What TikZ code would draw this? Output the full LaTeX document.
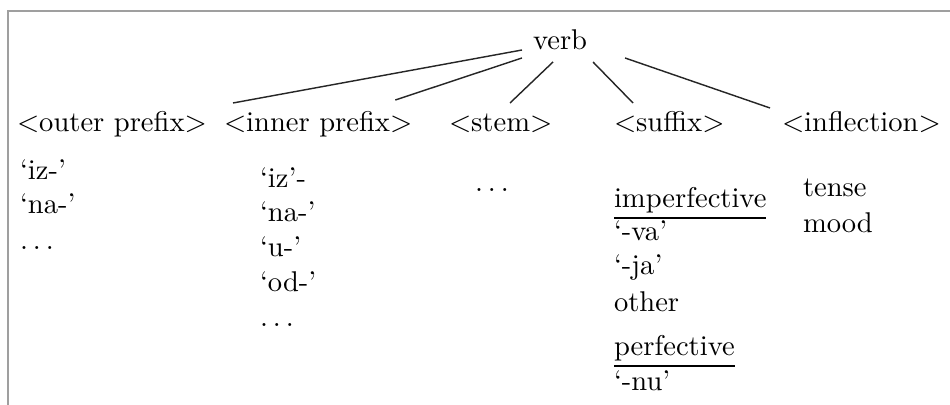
\documentclass[tikz,border=0pt]{standalone}
\usetikzlibrary{calc}
\newcommand{\spdots}{.\kern1.75pt.\kern1.75pt.}
\begin{document}
\begin{tikzpicture}[x=0.35pt,y=-0.35pt,
  lbl/.style={anchor=base west,inner sep=0pt,outer sep=0pt},
  edge/.style={line width=0.5pt,black!85},
  frame/.style={line width=0.55pt,gray!75}]
\useasboundingbox (0,0) rectangle (950,405);
% frame of the screenshot
\draw[frame] (950,11) -- (8,11) -- (8,405);
% root and children
\node[lbl] (verb) at (533,50) {verb};
\node[lbl] (outer) at (17,132) {$<$outer prefix$>$};
\node[lbl] (inner) at (224,132) {$<$inner prefix$>$};
\node[lbl] (stem) at (449,132) {$<$stem$>$};
\node[lbl] (suffix) at (614,132) {$<$suffix$>$};
\node[lbl] (infl) at (782,132) {$<$inflection$>$};
% connectors
\draw[edge] ($(verb.base west)+(-11,0)$) -- ($(inner.base west)+(9,-29)$);
\draw[edge] ($(verb.base west)+(-11,8)$) -- ($(inner.base east)+(-17,-32)$);
\draw[edge] ($(verb.base west)+(20,12)$) -- ($(stem.base west)+(61,-29)$);
\draw[edge] ($(verb.base west)+(60,12)$) -- ($(suffix.base west)+(19,-29)$);
\draw[edge] ($(verb.base east)+(38,8)$) -- ($(infl.base west)+(-12,-24)$);
% outer prefix list
\node[lbl] (o1) at (20,180) {`iz-'};
\node[lbl] (o2) at (20,214) {`na-'};
\node[lbl] (o3) at (20,250) {\spdots};
% inner prefix list
\node[lbl] (i1) at (260,188) {`iz'-};
\node[lbl] (i2) at (260,222) {`na-'};
\node[lbl] (i3) at (260,257) {`u-'};
\node[lbl] (i4) at (260,292) {`od-'};
\node[lbl] (i5) at (260,327) {\spdots};
% stem
\node[lbl] (s1) at (475,192) {\spdots};
% suffix list
\node[lbl] (imp) at (614,208) {imperfective};
\draw[line width=0.45pt] ($(imp.base west)+(0,10)$) -- ($(imp.base east)+(0,10)$);
\node[lbl] (va) at (614,241) {`-va'};
\node[lbl] (ja) at (614,275) {`-ja'};
\node[lbl] (oth) at (614,312) {other};
\node[lbl] (perf) at (614,355) {perfective};
\draw[line width=0.45pt] ($(perf.base west)+(0,11)$) -- ($(perf.base east)+(0,11)$);
\node[lbl] (nu) at (614,390) {`-nu'};
% inflection list
\node[lbl] (tense) at (803,197) {tense};
\node[lbl] (mood) at (803,233) {mood};
\end{tikzpicture}
\end{document}
